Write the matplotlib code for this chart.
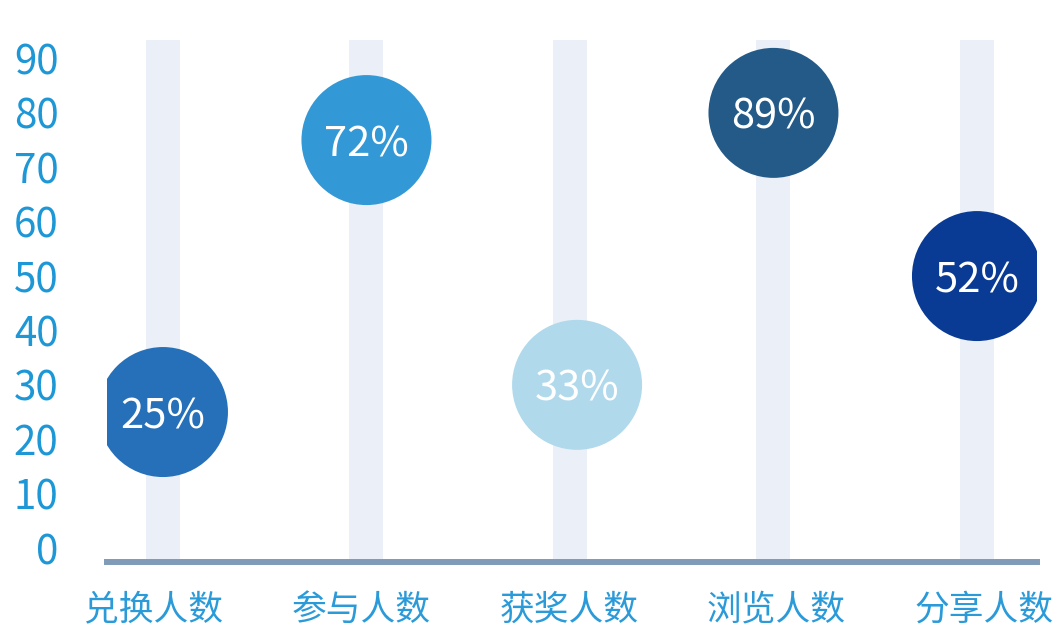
import matplotlib
matplotlib.use("Agg")
import matplotlib.pyplot as plt

plt.rcParams["font.family"] = ["Noto Sans CJK SC", "DejaVu Sans"]

categories = ["兑换人数", "参与人数", "获奖人数", "浏览人数", "分享人数"]
values = [25, 75, 30, 80, 50]
labels = ["25%", "72%", "33%", "89%", "52%"]
colors = ["#2570B8", "#3398D6", "#B0D9EC", "#245A88", "#0A3B94"]
# the third bubble sits a little right of its track in the original
bubble_shift = [0, 0, 0.035, 0, 0]
track_top = 93.4
yticks = [0, 10, 20, 30, 40, 50, 60, 70, 80, 90]

W, H = 1062, 640
fig = plt.figure(figsize=(W / 100, H / 100), dpi=100)
rect = [107 / W, (H - 562) / H, (1037 - 107) / W, (562 - 40) / H]
ax = fig.add_axes(rect)

ymin = -2.57
x = list(range(len(categories)))
bx = [xi + s for xi, s in zip(x, bubble_shift)]

# light track behind each point
ax.bar(x, [track_top - ymin] * len(x), bottom=ymin, width=0.167,
       color="#EBF0F8", zorder=1)

ax.scatter(bx, values, s=8761, c=colors, edgecolors="none", zorder=3)
for xi, v, lab in zip(bx, values, labels):
    ax.text(xi, v, lab, ha="center", va="center_baseline", color="white",
            fontsize=30, fontweight="light", zorder=4)

ax.set_xlim(-0.275, 4.295)
ax.set_ylim(ymin, track_top)
ax.set_xticks([])
ax.set_yticks(yticks)

for side in ["top", "right", "left"]:
    ax.spines[side].set_visible(False)
ax.spines["bottom"].set_color("#7F9BB8")
ax.spines["bottom"].set_linewidth(4.3)
ax.spines["bottom"].set_zorder(2)
ax.tick_params(axis="y", length=0, pad=35, labelsize=29, labelcolor="#1E97D6")

# category labels are spaced slightly wider than the tracks
lab_ax = fig.add_axes(rect, frameon=False)
lab_ax.set_xlim(-0.224, 4.256)
lab_ax.set_xticks(x)
lab_ax.set_xticklabels(categories)
lab_ax.set_yticks([])
lab_ax.tick_params(axis="x", length=0, pad=22, labelsize=25, labelcolor="#2A9AD9")

fig.savefig("out.png", dpi=100)
